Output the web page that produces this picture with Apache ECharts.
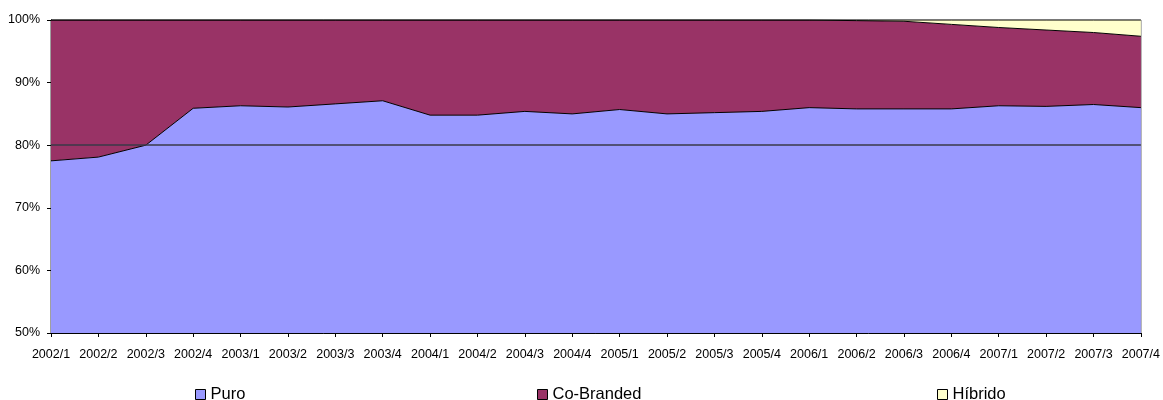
<!DOCTYPE html>
<html>
<head>
<meta charset="utf-8">
<script src="https://cdn.jsdelivr.net/npm/echarts@6/dist/echarts.min.js"></script>
<style>
  html, body { margin: 0; padding: 0; background: #fff; }
  #chart { width: 1163px; height: 400px; }
</style>
</head>
<body>
<div id="chart"></div>
<script>
// Quarterly share by product type (percent of total)
const quarters = [
  '2002/1', '2002/2', '2002/3', '2002/4',
  '2003/1', '2003/2', '2003/3', '2003/4',
  '2004/1', '2004/2', '2004/3', '2004/4',
  '2005/1', '2005/2', '2005/3', '2005/4',
  '2006/1', '2006/2', '2006/3', '2006/4',
  '2007/1', '2007/2', '2007/3', '2007/4'
];
const puro = [
  77.5, 78.1, 80.0, 85.9,
  86.3, 86.1, 86.6, 87.1,
  84.8, 84.8, 85.4, 85.0,
  85.7, 85.0, 85.2, 85.4,
  86.0, 85.8, 85.8, 85.8,
  86.3, 86.2, 86.5, 86.0
];
const coBranded = [
  22.5, 21.9, 20.0, 14.1,
  13.7, 13.9, 13.4, 12.9,
  15.2, 15.2, 14.6, 15.0,
  14.3, 15.0, 14.8, 14.6,
  14.0, 14.1, 14.0, 13.5,
  12.5, 12.2, 11.5, 11.4
];
const hibrido = [
  0, 0, 0, 0,
  0, 0, 0, 0,
  0, 0, 0, 0,
  0, 0, 0, 0,
  0, 0.1, 0.2, 0.7,
  1.2, 1.6, 2.0, 2.6
];
const yTicks = { min: 50, max: 100, step: 10 };
const referenceLevel = 80;

const FONT = '"Liberation Sans", Arial, sans-serif';

function areaSeries(name, data, fill) {
  return {
    name: name,
    type: 'line',
    stack: 'total',
    data: data,
    symbol: 'none',
    showSymbol: false,
    clip: true,
    lineStyle: { color: '#000', width: 1 },
    itemStyle: { color: fill, borderColor: '#000', borderWidth: 1 },
    areaStyle: { color: fill, opacity: 1 },
    emphasis: { disabled: true },
    z: 2
  };
}

function legendAt(name, left) {
  return {
    data: [name],
    left: left,
    top: 386,
    padding: 0,
    icon: 'rect',
    itemWidth: 10,
    itemHeight: 10,
    itemGap: 0,
    itemStyle: { borderColor: '#000', borderWidth: 1 },
    textStyle: { fontFamily: FONT, fontSize: 16.5, color: '#000' },
    selectedMode: false
  };
}

const chart = echarts.init(document.getElementById('chart'), null, { renderer: 'canvas' });

const series = [
  areaSeries('Puro', puro, '#9999FF'),
  areaSeries('Co-Branded', coBranded, '#993366'),
  areaSeries('Híbrido', hibrido, '#FFFFCC')
];
// horizontal reference line drawn over the areas
series[2].markLine = {
  silent: true,
  symbol: 'none',
  label: { show: false },
  lineStyle: { color: '#3a3a48', width: 1.5, type: 'solid' },
  data: [{ yAxis: referenceLevel }],
  z: 5
};

chart.setOption({
  animation: false,
  backgroundColor: '#fff',
  textStyle: { fontFamily: FONT },
  grid: {
    left: 51, right: 20, top: 20, bottom: 67,
    show: true,
    borderColor: '#404040',
    borderWidth: 1,
    backgroundColor: 'transparent'
  },
  legend: [
    legendAt('Puro', 195),
    legendAt('Co-Branded', 537),
    legendAt('Híbrido', 937)
  ],
  xAxis: {
    type: 'category',
    data: quarters,
    boundaryGap: false,
    axisLine: { lineStyle: { color: '#000', width: 1 } },
    axisTick: { show: true, length: 4, alignWithLabel: true, lineStyle: { color: '#000' } },
    axisLabel: { color: '#000', fontSize: 12.5, fontFamily: FONT, margin: 15, interval: 0 },
    splitLine: { show: false }
  },
  yAxis: {
    type: 'value',
    min: yTicks.min,
    max: yTicks.max,
    interval: yTicks.step,
    axisLine: { show: true, lineStyle: { color: '#000', width: 1 } },
    axisTick: { show: true, length: 4, lineStyle: { color: '#000' } },
    axisLabel: { color: '#000', fontSize: 12.5, fontFamily: FONT, margin: 11, formatter: '{value}%' },
    splitLine: { show: false }
  },
  series: series
});
</script>
</body>
</html>
